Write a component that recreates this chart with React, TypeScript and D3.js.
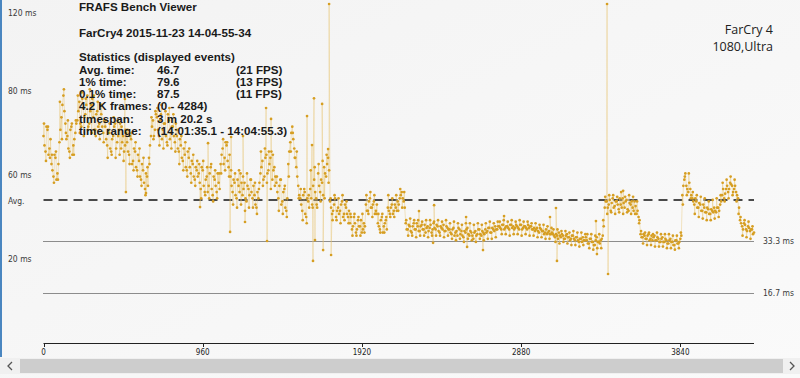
import React from "react";
import * as d3 from "d3";

const W = 800;
const H = 378;

const frameTimes: number[] = [
  67, 62, 69, 63,
  58, 54, 60, 55,
  65, 73, 80, 71,
  67, 62, 70, 64, 68,
  72, 78, 70, 76, 74, 80, 71, 77, 73, 69, 75, 71, 74, 68,
  70, 64, 68, 62, 67, 71, 65, 69, 63, 67, 64,
  65, 61, 66, 59, 62, 56, 59, 53, 56, 50, 54,
  60, 67, 72, 69,
  73, 67, 74, 69, 71, 65, 72, 68, 70, 65,
  67, 62, 64, 59, 61, 56, 60, 55, 58, 53, 56,
  55, 50, 56, 49, 54, 51, 57, 48, 53, 49, 52,
  58, 63, 60, 64, 57,
  54, 49, 52, 47, 51, 55, 48, 52, 46, 50, 53, 47,
  48, 44, 47,
  55, 59, 54, 61, 56, 60, 53, 57,
  52, 47, 53, 46, 50, 43,
  58, 65, 70, 63, 57, 51,
  47, 43, 50, 41, 46,
  50, 45, 53, 47, 55, 49, 52, 57, 54, 60,
  46, 42, 45, 41, 44, 43, 46, 42, 44, 41,
  39, 37, 41, 36, 40, 38, 36, 39,
  45, 43, 47, 44, 46, 43,
  39, 37, 41, 38, 40,
  44, 42, 45, 43, 44, 46, 47, 49, 46,
  39, 37, 38, 36, 39, 37, 38, 36.5, 38.5, 37, 36, 38, 37.5, 36, 39, 37, 38, 36, 37.5, 38.5, 36.5, 37.5,
  37, 35.5, 37.5, 36, 35, 37, 36.5, 34.5, 36, 37.5, 35, 36, 34, 36.5, 35.5, 37, 35, 36, 37, 36.5, 37.5, 36, 37, 38, 37,
  38, 37, 38.5, 37.5, 38, 37, 38.5, 38, 37.5, 38, 37, 38.5, 37.5, 38, 37, 37.5, 38, 37, 36.5, 37.5, 36, 37, 36.5, 36, 35.5, 36.5, 35.5,
  35.5, 34.5, 35, 36, 34.5, 35, 34, 35.5, 34.5, 34, 35, 33.5, 34.5, 33, 34, 34.5, 33.5,
  33.5, 32.5, 34, 33, 32, 34.5, 33, 33.5, 35,
  44, 46, 45, 43, 47, 44.5, 46, 43.5, 45, 47, 44, 46.5, 43, 45, 44, 46, 42, 41,
  35.5, 34.5, 35, 34, 35.5, 34, 33.5, 35, 33.5, 34, 33, 34.5, 33, 33.5, 32.5, 34, 33, 32, 33.5, 32.5, 34,
  48, 53, 51, 49, 50,
  47, 45, 46, 44, 45, 43, 44, 42.5, 43.5, 42, 43, 44, 42.5, 44, 45,
  48, 47, 50, 49, 52, 51, 50, 49, 47,
  40, 38, 39, 37, 38, 36.5, 37, 36,
];

// frames half a sample later
const frameTimesMid: number[] = [
  64, 70, 61, 66,
  56, 61, 53, 58,
  69, 77, 75, 66,
  63, 69, 61, 66, 71,
  75, 71, 79, 73, 77, 70, 75, 79, 69, 74, 70, 77, 70, 72,
  66, 69, 63, 66, 70, 63, 67, 71, 65, 62, 68,
  62, 67, 58, 63, 57, 61, 54, 58, 52, 55, 51,
  64, 70, 67, 74,
  69, 72, 66, 71, 67, 74, 66, 70, 67, 71,
  63, 66, 60, 63, 57, 62, 57, 59, 54, 57, 54,
  52, 57, 51, 53, 49, 55, 50, 54, 51, 55, 50,
  61, 58, 65, 59, 61,
  51, 53, 48, 53, 49, 52, 50, 47, 51, 48, 49, 51,
  45, 49, 52,
  57, 53, 60, 55, 58, 62, 56, 54,
  49, 51, 45, 49, 44, 47,
  62, 68, 66, 60, 54, 48,
  45, 48, 42, 47, 44,
  47, 51, 49, 44, 51, 53, 48, 55, 58, 56,
  44, 43, 47, 43, 42, 45, 41, 45, 42, 43,
  41, 38, 39, 37, 38, 40, 37, 38,
  43, 46, 44, 45, 42, 45,
  38, 40, 36, 39, 37,
  43, 44, 42, 45, 43, 45, 48, 47, 44,
  37, 38.5, 36.5, 38, 37, 39, 36.5, 38, 37, 38.5, 37.5, 36.5, 38.5, 37, 37.5, 38.5, 36.5, 38, 37, 36.5, 38, 37,
  36, 37, 35, 36.5, 37.5, 35.5, 35, 36.5, 37, 35.5, 36.5, 35, 36, 35, 37, 35.5, 36.5, 35.5, 36, 37.5, 36, 37.5, 36.5, 37, 38,
  37.5, 38.5, 37, 38, 37.5, 38.5, 37.5, 37, 38.5, 37.5, 38.5, 37, 38, 37.5, 38.5, 38, 37, 37.5, 37, 36.5, 37.5, 36.5, 35.5, 37, 36, 35.5, 36,
  35, 35.5, 34, 35, 35.5, 34, 35, 34.5, 33.5, 35, 34, 34.5, 33.5, 34, 33, 33.5, 34.5,
  32.5, 34, 33, 32, 33.5, 33, 32.5, 34, 38,
  46, 44, 46.5, 45.5, 44, 46, 45, 47, 44, 45.5, 46, 43.5, 45.5, 46, 43, 44.5, 43, 40,
  34.5, 35.5, 34, 35, 33.5, 35, 34.5, 33.5, 34.5, 33, 34, 33, 34, 32.5, 33.5, 33, 32, 33.5, 32.5, 33, 35,
  51, 55, 50, 52, 48,
  46, 47, 44, 45.5, 43, 45, 42.5, 44, 42, 43.5, 42.5, 43, 44, 43, 46,
  50, 48.5, 51, 50, 51.5, 49, 51, 48, 44,
  39, 37, 38.5, 36.5, 37.5, 37, 35.5,
];

// frames a quarter sample later: the scattered edges of the band
const frameTimesEdge: number[] = [
  71, 59, 70, 60,
  61, 52, 62, 53,
  78, 66, 82, 68,
  72, 60, 71, 61, 72,
  80, 68, 81, 67, 79, 69, 82, 68, 80, 67, 78, 66, 77, 65,
  72, 60, 71, 61, 73, 60, 72, 61, 70, 59, 69,
  69, 58, 68, 56, 65, 54, 63, 51, 60, 48, 57,
  58, 73, 66, 75,
  76, 64, 77, 63, 75, 64, 76, 63, 74, 62,
  69, 58, 67, 56, 65, 54, 63, 52, 61, 51, 59,
  58, 47, 59, 48, 57, 47, 58, 46, 56, 47, 55,
  55, 66, 56, 65, 54,
  56, 45, 55, 44, 56, 45, 54, 43, 55, 44, 53, 44,
  52, 42, 50,
  62, 51, 63, 52, 62, 50, 61, 51,
  54, 43, 53, 42, 51, 41,
  54, 62, 68, 60, 62, 47,
  50, 40, 49, 39, 48,
  56, 44, 57, 45, 58, 46, 59, 47, 61, 52,
  47, 40, 48, 40, 47, 39, 48, 40, 46, 39,
  42, 35, 42, 35, 41, 35, 42, 36,
  48, 42, 49, 41, 48, 42,
  42, 36, 42, 36, 41,
  48, 41, 47, 41, 48, 43, 50, 44, 49,
  40, 35, 40.5, 35, 40, 34.5, 40, 35, 39.5, 35, 40, 34.5, 40, 35, 39.5, 35, 40, 35, 39.5, 34.5, 40, 35,
  39, 34, 39.5, 33.5, 39, 34, 38.5, 33, 39, 34, 39, 33.5, 38.5, 33, 39, 34, 38.5, 33.5, 39, 34, 39.5, 34, 39, 34.5, 39.5,
  39.5, 35.5, 40, 35.5, 39.5, 35, 40, 35.5, 39.5, 35.5, 40, 35, 39.5, 35.5, 39.5, 35, 39, 35, 39, 34.5, 38.5, 34.5, 38.5, 34, 38, 34, 37.5,
  37, 33, 37, 32.5, 36.5, 33, 36.5, 32.5, 36, 32, 36.5, 32, 36, 31.5, 36, 32, 35.5,
  35.5, 31, 35.5, 30.5, 35, 31, 35.5, 31, 40,
  47.5, 42, 48, 42.5, 48, 42, 47.5, 42.5, 49, 42, 47.5, 42.5, 48, 42, 47.5, 42, 46, 39,
  36.5, 32.5, 36, 32, 36, 32, 35.5, 31.5, 36, 31.5, 35.5, 31.5, 35.5, 31, 35.5, 31, 35, 30.5, 35, 31, 36,
  45, 54, 48, 55, 47,
  49, 42, 48, 41, 47.5, 40.5, 47, 40, 46, 40, 46.5, 40.5, 47, 41, 48,
  52, 46, 53, 47, 54, 48, 53, 46, 42,
  41, 35, 40, 34.5, 39.5, 34, 38,
];

// isolated outlier frames
const spikeFrames: number[] = [491, 497, 618, 944, 992, 1125, 1131, 1203, 1215, 1342, 1348, 1372, 1589, 1619, 1625, 1631, 1637, 1680, 1686, 1716, 1722, 1734, 2264, 2349, 2355, 2548, 2554, 2650, 2777, 3054, 3090, 3096, 3331, 3337, 3398, 3404, 3495];
const spikeValues: number[] = [78.9, 49.0, 48.7, 44.2, 64.7, 36.2, 66.7, 67.0, 39.4, 76.0, 33.3, 72.5, 73.4, 64.1, 26.9, 79.1, 33.6, 77.3, 30.4, 62.8, 109.4, 28.8, 42.9, 32.7, 44.8, 41.0, 31.4, 30.4, 41.3, 41.0, 43.9, 26.9, 39.7, 29.1, 109.4, 22.7, 49.4];

const totalFrames = 4284;
const avgTime = 46.7;
const refLines: number[] = [33.3, 16.7];
const refLabels: string[] = ["33.3 ms", "16.7 ms"];
const xTicks: number[] = [0, 960, 1920, 2880, 3840];
const yLabels: string[] = ["120 ms", "80 ms", "60 ms", "Avg.", "20 ms"];
const yLabelAt: number[] = [106.6, 81.6, 54.6, 46.0, 27.6];

const statLabels: string[] = ["Avg. time:", "1% time:", "0.1% time:", "4.2 K frames:", "timespan:", "time range:"];
const statValues: string[] = ["46.7", "79.6", "87.5", "(0 - 4284)", "3 m 20.2 s", "(14:01:35.1 - 14:04:55.3)"];
const statFps: string[] = ["(21 FPS)", "(13 FPS)", "(11 FPS)", "", "", ""];

export default function App() {
  const x = d3.scaleLinear().domain([0, totalFrames]).range([43.5, 754]);
  const y = d3.scaleLinear().domain([0, 109.4]).range([344.7, 4]);

  const step = totalFrames / (frameTimes.length - 1);
  const pts: [number, number][] = frameTimes.map((v, i) => [Math.round(i * step), v]);
  frameTimesMid.forEach((v, i) => pts.push([Math.round(i * step + step / 2), v]));
  frameTimesEdge.forEach((v, i) => pts.push([Math.round(i * step + step / 4), v]));
  spikeFrames.forEach((f, i) => pts.push([f, spikeValues[i]]));
  pts.sort((a, b) => a[0] - b[0]);

  const line = d3
    .line<[number, number]>()
    .x((d) => x(d[0]))
    .y((d) => y(d[1]));

  const gold = "#d69e22";
  const statFont = "'Liberation Sans', Arial, sans-serif";
  const smallFont = "'DejaVu Sans Condensed', 'DejaVu Sans', sans-serif";
  const crisp = (v: number) => Math.round(y(v)) + 0.5;

  return (
    <svg
      width={W}
      height={H}
      style={{ position: "absolute", left: 0, top: 0, display: "block" }}
    >
      <defs>
        <linearGradient id="bg" x1="0" y1="0" x2="1" y2="1">
          <stop offset="0" stopColor="#f3f3f3" />
          <stop offset="1" stopColor="#fafafa" />
        </linearGradient>
      </defs>
      <rect x={0} y={0} width={W} height={H} fill="url(#bg)" />
      <rect x={0} y={0} width={2} height={357} fill="#4a86c0" />

      {/* y labels */}
      {yLabels.map((t, i) => (
        <text
          key={t}
          x={8}
          y={y(yLabelAt[i])}
          dy="0.35em"
          fontSize={8.5}
          fontFamily={smallFont}
          fill="#3a3a3a"
        >
          {t}
        </text>
      ))}

      {/* reference lines */}
      <line
        x1={x(0)}
        x2={x(totalFrames)}
        y1={Math.round(y(avgTime)) + 1}
        y2={Math.round(y(avgTime)) + 1}
        stroke="#4a4a4a"
        strokeWidth={2}
        strokeDasharray="9,6"
      />
      {refLines.map((v, i) => (
        <g key={v}>
          <line
            x1={x(0)}
            x2={x(totalFrames)}
            y1={crisp(v)}
            y2={crisp(v)}
            stroke="#222"
            strokeWidth={1}
            strokeDasharray="1,1"
          />
          <text
            x={763}
            y={y(v)}
            dy="0.35em"
            fontSize={8.5}
            fontFamily={smallFont}
            fill="#3a3a3a"
          >
            {refLabels[i]}
          </text>
        </g>
      ))}

      {/* data */}
      <path d={line(pts) || ""} fill="none" stroke="#e8c46f" strokeOpacity={0.6} strokeWidth={0.7} />
      {pts.map((d, i) => (
        <circle key={i} cx={x(d[0])} cy={y(d[1])} r={1.35} fill={gold} />
      ))}

      {/* x axis */}
      <line x1={x(0)} x2={x(totalFrames)} y1={343.5} y2={343.5} stroke="#222" strokeWidth={1} />
      {xTicks.map((t) => (
        <g key={t}>
          <line x1={Math.round(x(t)) + 0.5} x2={Math.round(x(t)) + 0.5} y1={343} y2={347} stroke="#222" />
          <text
            x={x(t)}
            y={355}
            textAnchor="middle"
            fontSize={8}
            fontFamily={smallFont}
            fill="#222"
          >
            {t}
          </text>
        </g>
      ))}

      {/* stats block */}
      <g fontFamily={statFont} fontWeight="bold" fontSize={11.6} fill="#1a1a1a">
        <text x={79} y={11}>FRAFS Bench Viewer</text>
        <text x={79} y={37}>FarCry4 2015-11-23 14-04-55-34</text>
        <text x={79} y={61}>Statistics (displayed events)</text>
        {statLabels.map((s, i) => (
          <g key={s}>
            <text x={79} y={73.5 + i * 12.3}>{s}</text>
            <text x={157} y={73.5 + i * 12.3}>{statValues[i]}</text>
            <text x={236} y={73.5 + i * 12.3}>{statFps[i]}</text>
          </g>
        ))}
      </g>

      {/* annotation */}
      <g fontFamily="'Open Sans', sans-serif" fontSize={12.5} fill="#222" textAnchor="end">
        <text x={773} y={34}>FarCry 4</text>
        <text x={773} y={51}>1080,Ultra</text>
      </g>

      {/* scrollbar */}
      <rect x={0} y={358} width={W} height={16} fill="#f0f0f0" />
      <rect x={20} y={359} width={763} height={14} fill="#cdcdcd" />
      <path d="M12,362 L8,366 L12,370" fill="none" stroke="#555" strokeWidth={1.3} />
      <path d="M790,362 L794,366 L790,370" fill="none" stroke="#555" strokeWidth={1.3} />
    </svg>
  );
}
